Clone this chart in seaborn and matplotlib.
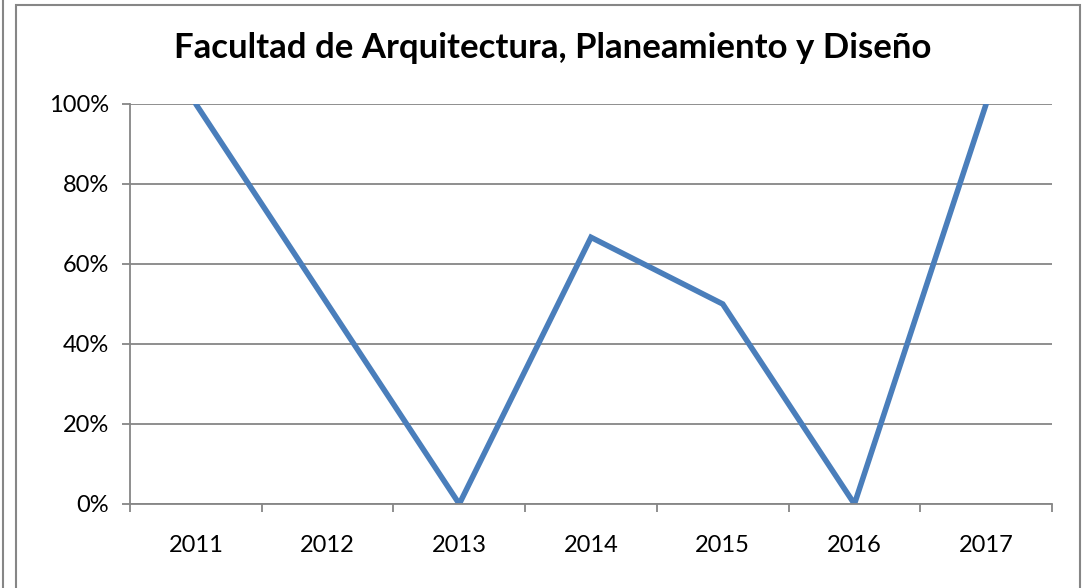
import numpy as np
import pandas as pd
import seaborn as sns
import matplotlib
matplotlib.use("Agg")
import matplotlib.pyplot as plt
from matplotlib.patches import Rectangle
from matplotlib.ticker import PercentFormatter, FixedLocator

years = ["2011", "2012", "2013", "2014", "2015", "2016", "2017"]
share = [1.0, 0.5, 0.0, 0.6667, 0.5, 0.0, 1.0]
title = "Facultad de Arquitectura, Planeamiento y Diseño"

df = pd.DataFrame({"year": years, "share": share})

sns.set_style("white")
plt.rcParams["font.family"] = ["Lato", "DejaVu Sans"]
plt.rcParams["text.color"] = "black"
plt.rcParams["xtick.labelcolor"] = "black"
plt.rcParams["ytick.labelcolor"] = "black"

grey = "#868686"

fig = plt.figure(figsize=(10.86, 5.88), dpi=100)
ax = fig.add_axes([130 / 1086, 84 / 588, 922 / 1086, 400 / 588])

sns.lineplot(data=df, x="year", y="share", ax=ax, color="#4A7EBB",
             linewidth=4.0, sort=False, solid_joinstyle="miter")

ax.set_xlim(-0.5, 6.5)
ax.set_ylim(0, 1.0)
ax.set_yticks(np.arange(0, 1.01, 0.2))
ax.yaxis.set_major_formatter(PercentFormatter(1.0, decimals=0))
ax.grid(axis="y", color=grey, linewidth=1.3)
ax.set_axisbelow(True)

ax.set_xticks(range(len(years)))
ax.set_xticklabels(years)
ax.xaxis.set_minor_locator(FixedLocator(np.arange(-0.5, 7, 1)))
ax.tick_params(axis="x", which="major", length=0, pad=22, labelsize=17, labelcolor="black")
ax.tick_params(axis="x", which="minor", bottom=True, length=6, width=1.3,
               color=grey, direction="out")
ax.tick_params(axis="y", length=6, width=1.3, color=grey, pad=9, labelsize=17,
               left=True, labelcolor="black")

ax.set_xlabel("")
ax.set_ylabel("")
for s in ["top", "right"]:
    ax.spines[s].set_visible(False)
for s in ["left", "bottom"]:
    ax.spines[s].set_color(grey)
    ax.spines[s].set_linewidth(1.3)

fig.text(553 / 1086, (588 - 48) / 588, title, ha="center", va="center",
         fontsize=25, fontweight="bold", color="black")

# chart frame
fig.patches.append(Rectangle((16 / 1086, -0.05), 1064 / 1086, 1.05 - 5 / 588,
                             transform=fig.transFigure, fill=False,
                             edgecolor=grey, linewidth=1.5))
fig.lines.append(plt.Line2D([3 / 1086, 3 / 1086], [0, 1], transform=fig.transFigure,
                            color=grey, linewidth=1.5))

fig.savefig("out.png", dpi=100)
